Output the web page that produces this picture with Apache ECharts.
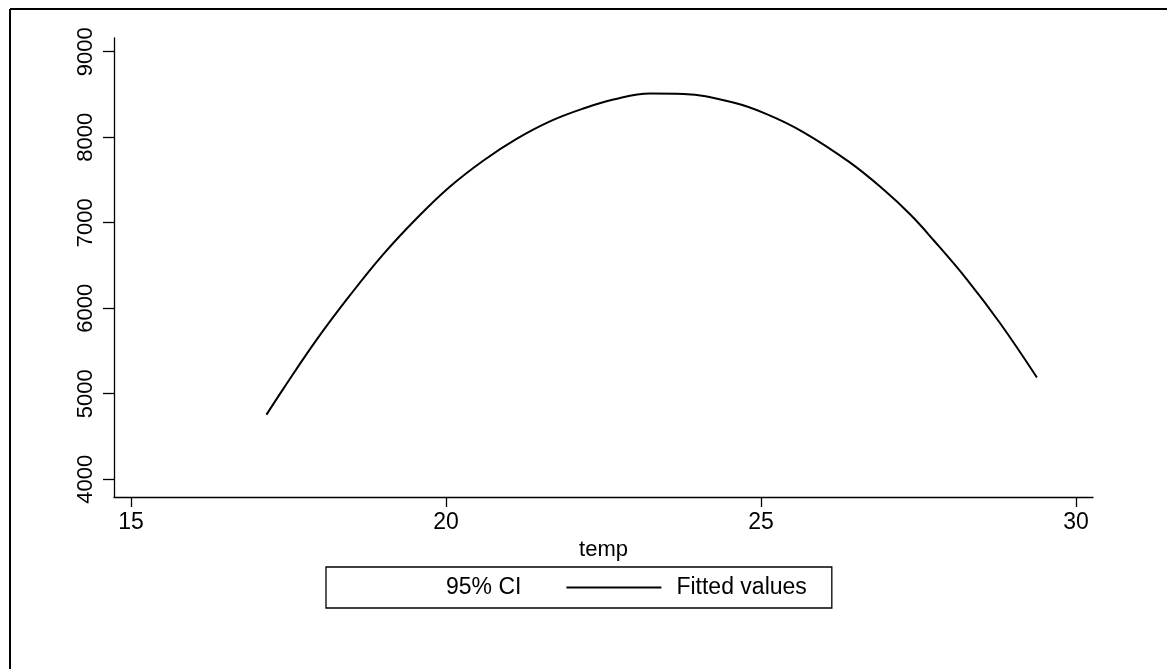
<!DOCTYPE html>
<html>
<head>
<meta charset="utf-8">
<script src="https://cdn.jsdelivr.net/npm/echarts@6/dist/echarts.min.js"></script>
<style>
html,body{margin:0;padding:0;background:#fff;}
#chart{width:1167px;height:669px;}
</style>
</head>
<body>
<div id="chart"></div>
<script>
// Data
var temp = [17.15, 17.42, 17.95, 18.48, 19.01, 19.54, 20.06, 20.59, 21.12, 21.65, 22.18, 22.66, 23.24, 23.77, 24.56, 25.09, 25.67, 26.41, 26.94, 27.37, 27.74, 28.27, 28.79, 29.38];
var fitted = [4755, 5060, 5635, 6155, 6635, 7055, 7420, 7725, 7980, 8185, 8335, 8440, 8510, 8505, 8405, 8270, 8060, 7705, 7390, 7095, 6795, 6335, 5830, 5190];
var xTicks = [15, 20, 25, 30];
var yTicks = [4000, 5000, 6000, 7000, 8000, 9000];
var seriesNames = ['95% CI', 'Fitted values'];
var xTitle = 'temp';

var points = temp.map(function (t, i) { return [t, fitted[i]]; });
var FONT = 'Arial, "Liberation Sans", Helvetica, sans-serif';

var chart = echarts.init(document.getElementById('chart'), null, {renderer: 'canvas'});
chart.setOption({
  animation: false,
  backgroundColor: '#fff',
  grid: {left: 114, right: 74, top: 38, bottom: 172, containLabel: false},
  xAxis: {
    type: 'value', min: 14.73, max: 30.27,
    name: xTitle, nameLocation: 'middle', nameGap: 31,
    nameTextStyle: {color: '#000', fontSize: 22, fontFamily: FONT},
    splitLine: {show: false},
    axisLine: {show: true, onZero: false, lineStyle: {color: '#000', width: 1.3}},
    axisTick: {show: true, length: 10, customValues: xTicks, lineStyle: {color: '#000', width: 1.3}},
    axisLabel: {customValues: xTicks, color: '#000', fontSize: 23, fontFamily: FONT, margin: 14,
      formatter: function (v) { return String(v); }}
  },
  yAxis: {
    type: 'value', min: 3792, max: 9160,
    splitLine: {show: false},
    axisLine: {show: true, onZero: false, lineStyle: {color: '#000', width: 1.3}},
    axisTick: {show: true, length: 11, customValues: yTicks, lineStyle: {color: '#000', width: 1.3}},
    axisLabel: {customValues: yTicks, rotate: 90, color: '#000', fontSize: 22, fontFamily: FONT, margin: 17,
      formatter: function (v) { return String(v); }}
  },
  legend: {
    left: 326, top: 567,
    orient: 'horizontal',
    padding: [9, 25, 9, 20],
    itemGap: 45, itemWidth: 95, itemHeight: 2,
    borderColor: '#000', borderWidth: 1.3, borderRadius: 0,
    backgroundColor: '#fff',
    textStyle: {color: '#000', fontSize: 23, fontFamily: FONT},
    data: [
      {name: seriesNames[0], icon: 'rect', itemStyle: {color: 'rgba(0,0,0,0)', borderWidth: 0}},
      {name: seriesNames[1], icon: 'rect', itemStyle: {color: '#000', borderWidth: 0}, textStyle: {padding: [0, 0, 0, 10]}}
    ]
  },
  graphic: [
    {type: 'line', shape: {x1: 10, y1: 9, x2: 1167, y2: 9}, style: {stroke: '#000', lineWidth: 2}},
    {type: 'line', shape: {x1: 10, y1: 9, x2: 10, y2: 669}, style: {stroke: '#000', lineWidth: 2}}
  ],
  series: [
    {
      name: seriesNames[0], type: 'line', data: [], symbol: 'none',
      itemStyle: {color: 'rgba(0,0,0,0)'}, lineStyle: {color: 'rgba(0,0,0,0)', width: 0}
    },
    {
      name: seriesNames[1], type: 'line', data: points, symbol: 'none', smooth: 0.4,
      itemStyle: {color: '#000'}, lineStyle: {color: '#000', width: 2}
    }
  ]
});
</script>
</body>
</html>
